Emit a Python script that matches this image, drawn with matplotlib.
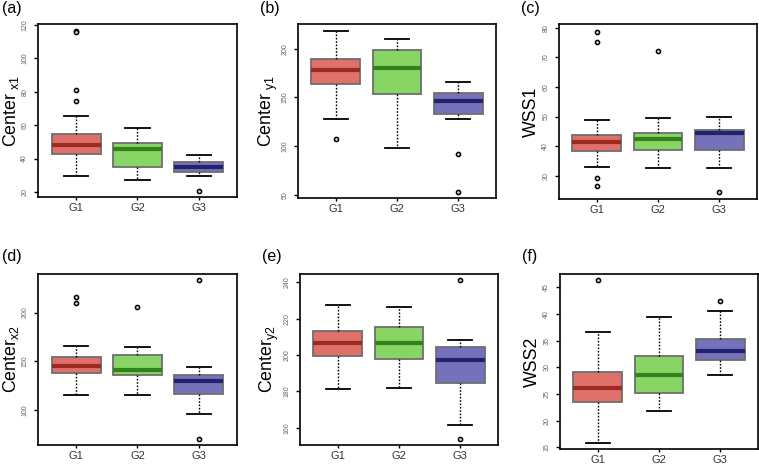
import matplotlib
matplotlib.use('Agg')
import matplotlib.pyplot as plt

plt.rcParams['font.family'] = ['Liberation Sans', 'DejaVu Sans']

groups = ['G1', 'G2', 'G3']

# box stats: median, q1, q3, whisker low, whisker high, outliers
cx1_med = [48.0, 45.6, 34.8]
cx1_q1 = [43.0, 35.0, 31.8]
cx1_q3 = [55.0, 49.6, 37.8]
cx1_lo = [29.8, 27.0, 29.6]
cx1_hi = [65.8, 58.6, 42.0]
cx1_out = [[116.4, 115.6, 81.0, 74.4], [], [20.8]]

cy1_med = [178.3, 180.0, 146.3]
cy1_q1 = [163.9, 153.2, 132.9]
cy1_q3 = [189.3, 198.3, 154.2]
cy1_lo = [127.8, 98.5, 127.8]
cy1_hi = [218.2, 209.6, 166.3]
cy1_out = [[106.8], [], [91.6, 52.8]]

wss1_med = [41.5, 42.3, 44.5]
wss1_q1 = [38.2, 38.6, 38.6]
wss1_q3 = [43.7, 44.5, 45.5]
wss1_lo = [32.8, 32.6, 32.6]
wss1_hi = [48.9, 49.6, 50.0]
wss1_out = [[78.7, 75.1, 29.3, 26.4], [72.1], [24.6]]

cx2_med = [145.2, 141.5, 129.6]
cx2_q1 = [137.8, 135.7, 117.0]
cx2_q3 = [154.8, 156.5, 136.4]
cx2_lo = [116.0, 115.6, 95.6]
cx2_hi = [165.6, 164.3, 143.9]
cx2_out = [[216.0, 209.9], [205.8], [233.3, 70.4]]

cy2_med = [206.9, 206.6, 197.1]
cy2_q1 = [199.6, 197.6, 184.7]
cy2_q3 = [213.0, 215.3, 204.2]
cy2_lo = [181.2, 182.1, 161.6]
cy2_hi = [227.6, 226.7, 208.2]
cy2_out = [[], [], [241.5, 154.0]]

wss2_med = [26.2, 28.6, 33.1]
wss2_q1 = [23.6, 25.2, 31.3]
wss2_q3 = [29.1, 32.1, 35.4]
wss2_lo = [15.9, 21.9, 28.6]
wss2_hi = [36.7, 39.5, 40.6]
wss2_out = [[46.4], [], [42.4]]

fills = ['#E0706A', '#88D465', '#7571BA']
medcols = ['#9C2A20', '#33821F', '#24216E']

W, H = 759, 465
fig = plt.figure(figsize=(W / 100, H / 100), dpi=100)


def add_panel(rect, tag, tagpos, ylabel, med, q1, q3, lo, hi, out, ylim, yticks, labx):
    l, t, r, b = rect
    ax = fig.add_axes([l / W, 1 - b / H, (r - l) / W, (b - t) / H])
    stats = []
    for i in range(3):
        stats.append(dict(med=med[i], q1=q1[i], q3=q3[i], whislo=lo[i],
                          whishi=hi[i], fliers=out[i], label=groups[i]))
    bp = ax.bxp(stats, positions=[1, 2, 3], widths=0.8, patch_artist=True,
                showfliers=True,
                boxprops=dict(edgecolor='#6E6E6E', linewidth=1.3),
                whiskerprops=dict(color='black', linewidth=1.0, linestyle=(0, (1.2, 1.2))),
                capprops=dict(color='black', linewidth=1.3),
                flierprops=dict(marker='o', markersize=3.0, markerfacecolor='#DDDDDD',
                                markeredgecolor='black', markeredgewidth=1.1))
    for i, box in enumerate(bp['boxes']):
        box.set_facecolor(fills[i])
    for i, m in enumerate(bp['medians']):
        m.set_color(medcols[i])
        m.set_linewidth(3.0)
        m.set_solid_capstyle('butt')
    for c in bp['caps']:
        x0, x1 = c.get_xdata()
        mid = (x0 + x1) / 2
        c.set_xdata([mid - 0.2, mid + 0.2])
    ax.set_xlim(0.38, 3.62)
    ax.set_ylim(*ylim)
    ax.set_yticks(yticks)
    ax.set_yticklabels([str(v) for v in yticks], rotation=90, va='center',
                       fontsize=5, color='#666666')
    ax.tick_params(axis='y', length=3, width=1, pad=4)
    ax.tick_params(axis='x', length=2.5, width=1, labelsize=8, labelcolor='#333333', pad=1.5)
    for s in ax.spines.values():
        s.set_linewidth(1.2)
    ax.set_ylabel(ylabel, fontsize=12.8, va='center')
    ax.yaxis.set_label_coords((labx - l) / (r - l), 0.5)
    fig.text(tagpos[0] / W, 1 - tagpos[1] / H, tag, fontsize=11.5, va='center', ha='left')
    return ax


add_panel((38, 24, 237, 197), '(a)', (2, 8), r'Center$_{\ \mathregular{x1}}$',
          cx1_med, cx1_q1, cx1_q3, cx1_lo, cx1_hi, cx1_out,
          (17, 120.6), [20, 40, 60, 80, 100, 120], 11)
add_panel((298, 24, 496, 198), '(b)', (260, 8), r'Center$_{\ \mathregular{y1}}$',
          cy1_med, cy1_q1, cy1_q3, cy1_lo, cy1_hi, cy1_out,
          (46.6, 225.5), [50, 100, 150, 200], 268)
add_panel((559, 24, 757, 199), '(c)', (521, 8), 'WSS1',
          wss1_med, wss1_q1, wss1_q3, wss1_lo, wss1_hi, wss1_out,
          (22.1, 81.3), [30, 40, 50, 60, 70, 80], 531)
add_panel((38, 274, 237, 445), '(d)', (2, 256), r'Center$_{\mathregular{x2}}$',
          cx2_med, cx2_q1, cx2_q3, cx2_lo, cx2_hi, cx2_out,
          (64.3, 239.5), [100, 150, 200], 11)
add_panel((300, 274, 498, 445), '(e)', (262, 256), r'Center$_{\mathregular{y2}}$',
          cy2_med, cy2_q1, cy2_q3, cy2_lo, cy2_hi, cy2_out,
          (150.5, 244.6), [160, 180, 200, 220, 240], 269)
add_panel((560, 274, 758, 449), '(f)', (522, 256), 'WSS2',
          wss2_med, wss2_q1, wss2_q3, wss2_lo, wss2_hi, wss2_out,
          (14.7, 47.5), [15, 20, 25, 30, 35, 40, 45], 532)

fig.savefig('out.png', dpi=100)
